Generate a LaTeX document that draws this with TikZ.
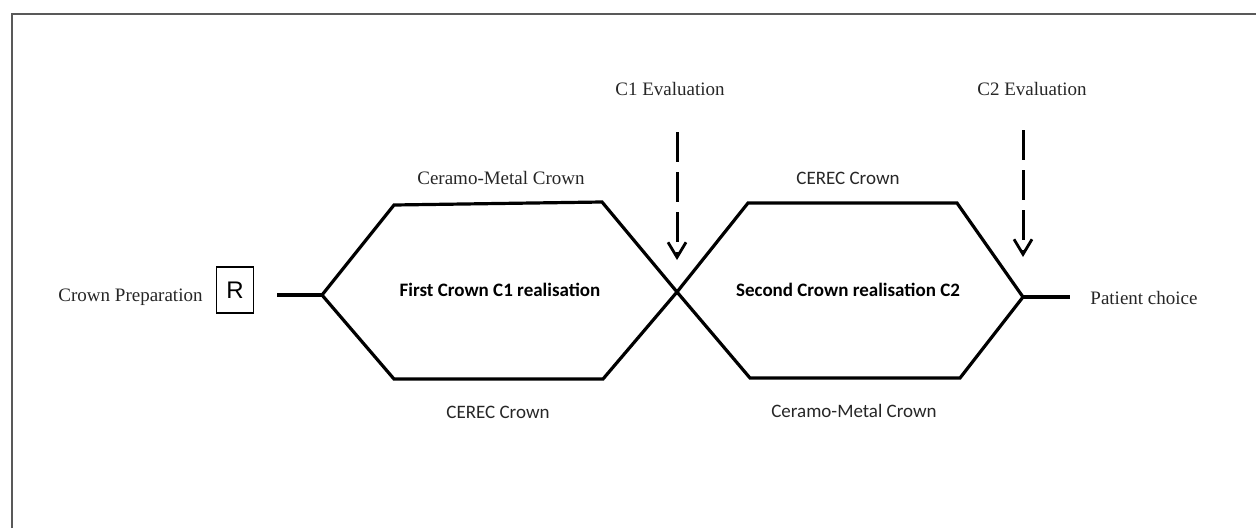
\documentclass[tikz,border=0pt]{standalone}
\usepackage{fontspec}
\setmainfont{Liberation Serif}
\newfontfamily\calibri{Carlito}
\newfontfamily\arialf{Liberation Sans}
\usetikzlibrary{arrows.meta}
\begin{document}
\begin{tikzpicture}[x=1pt,y=-1pt,
  serifl/.style={font=\fontsize{19}{22}\selectfont, inner sep=0pt, anchor=center, text=black!85},
  sansl/.style={font=\calibri\fontsize{19}{22}\selectfont, inner sep=0pt, anchor=center, text=black!85},
  boldl/.style={font=\calibri\bfseries\fontsize{19}{22}\selectfont, inner sep=0pt, anchor=center},
  hexline/.style={line width=3.2pt, line join=miter},
  evalarrow/.style={line width=3pt, dash pattern=on 30pt off 10pt, -{Straight Barb[length=15pt,width=18pt,line width=2.8pt]}},
  framel/.style={line width=2.5pt, draw=black!65},
  rbox/.style={draw, line width=1.3pt, minimum width=37pt, minimum height=46pt, inner sep=0pt, font=\arialf\fontsize{24}{26}\selectfont}
]
\useasboundingbox (0,0) rectangle (1256,528);
% frame
\draw[framel] (12,528) -- (12,14) -- (1256,14);

% hexagon vertices
\coordinate (h1l) at (322,295);
\coordinate (h1tl) at (394,205);
\coordinate (h1tr) at (602,202);
\coordinate (x) at (677,292);
\coordinate (h1bl) at (394,379);
\coordinate (h1br) at (603,379);
\coordinate (h2tl) at (748,203);
\coordinate (h2tr) at (957,203);
\coordinate (h2r) at (1023,297);
\coordinate (h2bl) at (750,378);
\coordinate (h2br) at (960,378);
\coordinate (stubL) at (277,295);
\coordinate (stubR) at (1070,297);

\draw[hexline] (h1l) -- (h1tl) -- (h1tr) -- (x) -- (h2bl) -- (h2br) -- (h2r) -- (h2tr) -- (h2tl) -- (x) -- (h1br) -- (h1bl) -- cycle;
\draw[hexline] (stubL) -- (h1l);
\draw[hexline] (h2r) -- (stubR);

% left labels
\node[serifl] (prep) at (130.5,297) {Crown Preparation};
\node[rbox] (r) at (235,290) {R};
\node[serifl] (patient) at (1144,298) {Patient choice};

% evaluation labels
\node[serifl] (c1eval) at (670,89) {C1 Evaluation};
\node[serifl] (c2eval) at (1032,89) {C2 Evaluation};
\coordinate (a1s) at (677,132);
\coordinate (a1e) at (677,260);
\coordinate (a2s) at (1023,130);
\coordinate (a2e) at (1023,257);
\draw[evalarrow] (a1s) -- (a1e);
\draw[evalarrow] (a2s) -- (a2e);

% hexagon labels
\node[serifl] (cm1) at (501,178) {Ceramo-Metal Crown};
\node[sansl] (ce1) at (498,412) {CEREC Crown};
\node[sansl] (ce2) at (848,178) {CEREC Crown};
\node[sansl] (cm2) at (854,411) {Ceramo-Metal Crown};
\node[boldl] (c1) at (500,290) {First Crown C1 realisation};
\node[boldl] (c2) at (848,290) {Second Crown realisation C2};
\end{tikzpicture}
\end{document}
